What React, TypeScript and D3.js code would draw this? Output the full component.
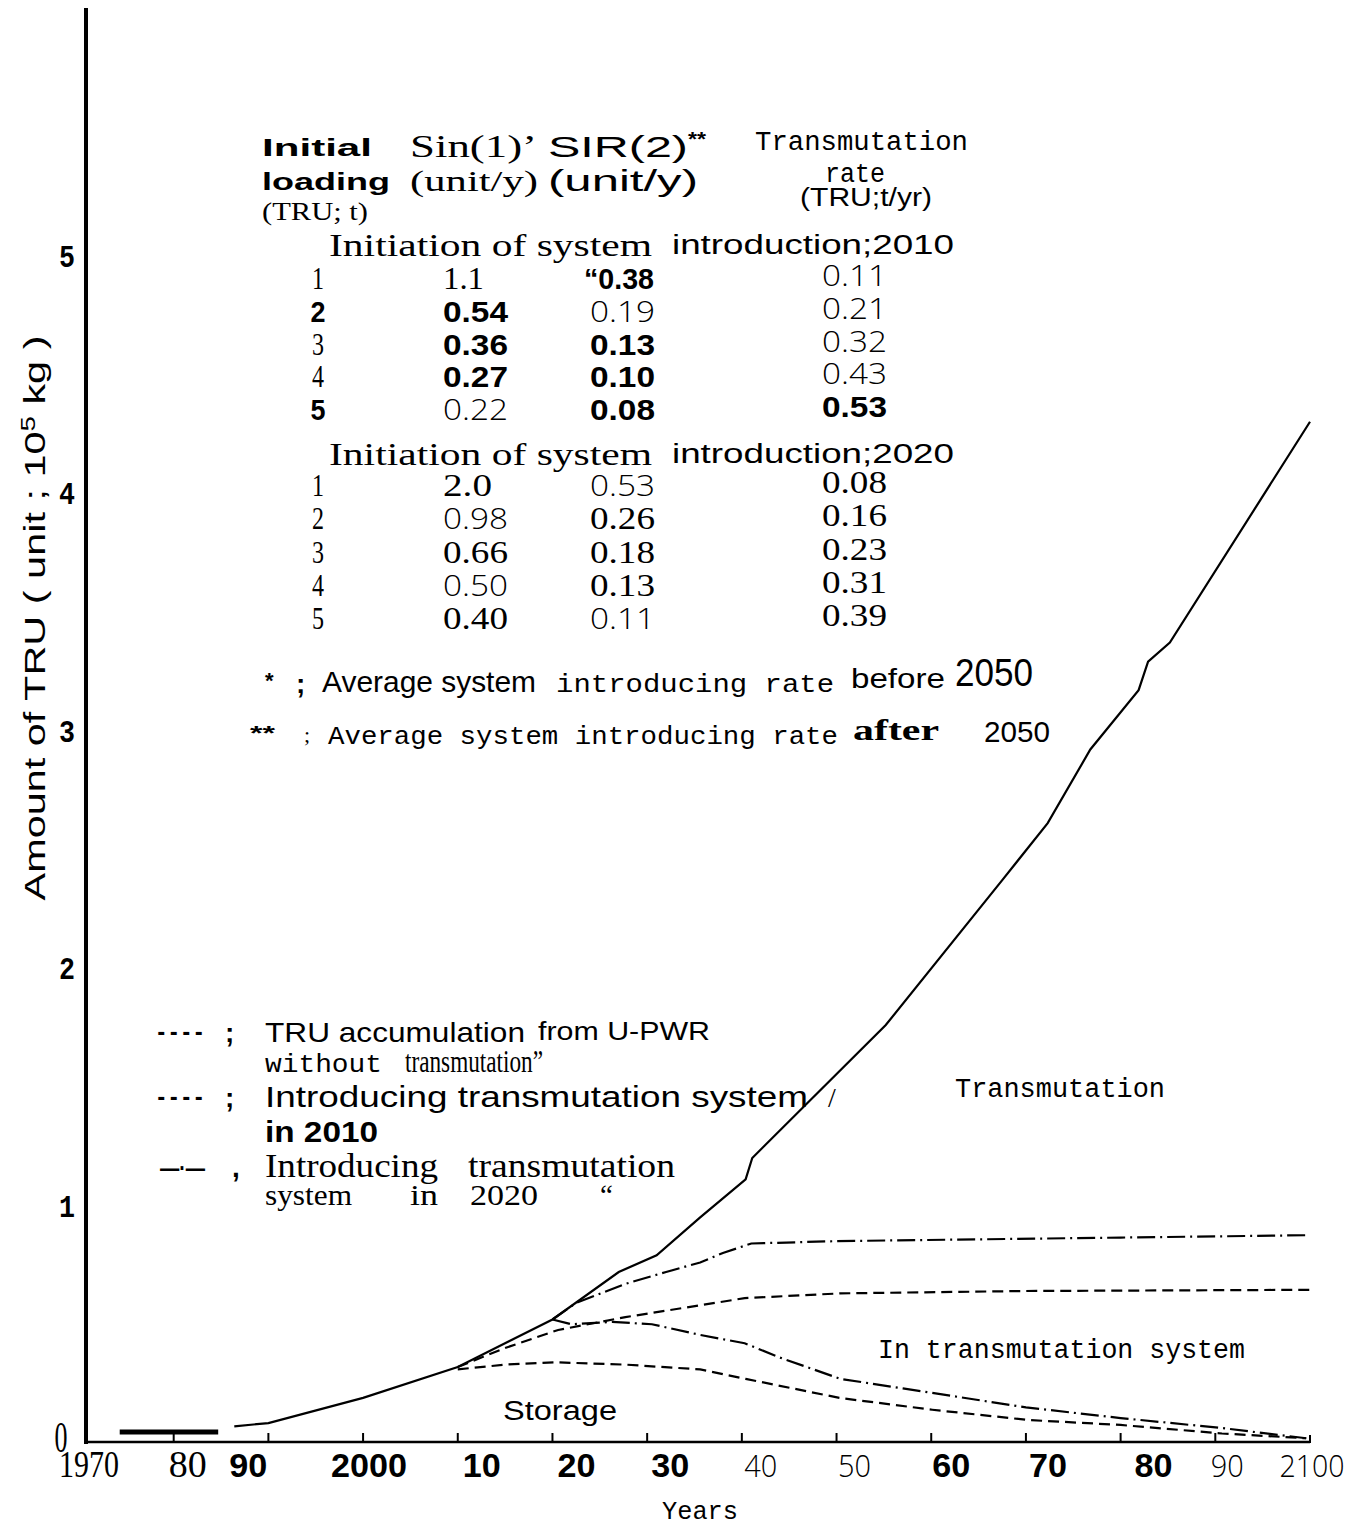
import React from "react";
import * as d3 from "d3";

const W = 1353;
const H = 1527;

const SERIF = "'Liberation Serif', 'DejaVu Serif', serif";
const SANS = "'Liberation Sans', Arial, sans-serif";
const MONO = "'Liberation Mono', 'DejaVu Sans Mono', monospace";
const NARROW = "'Liberation Sans Narrow', 'Liberation Sans', sans-serif";
const LIGHT = "'Open Sans', 'DejaVu Sans', sans-serif";

// axes
const yearTicks = [1970, 1980, 1990, 2000, 2010, 2020, 2030, 2040, 2050, 2060, 2070, 2080, 2090, 2100];
const yearTickLabels = ["1970", "80", "90", "2000", "10", "20", "30", "40", "50", "60", "70", "80", "90", "2100"];
const valueTicks = [0, 1, 2, 3, 4, 5];

// curves: [year, amount of TRU (10^5 kg)]
const earlyStock: [number, number][] = [
  [1974.3, 0.046],
  [1984.7, 0.046],
];
const withoutTransmutation: [number, number][] = [
  [1986.4, 0.07], [1990, 0.084], [2000, 0.19], [2010, 0.32], [2020, 0.52],
  [2027, 0.72], [2031, 0.79], [2035.6, 0.95], [2040.4, 1.11], [2041.1, 1.2],
  [2055.2, 1.76], [2067.5, 2.37], [2072.3, 2.61], [2076.8, 2.92], [2081.9, 3.17],
  [2082.9, 3.29], [2085.2, 3.37], [2100, 4.3],
];
const intro2010InSystem: [number, number][] = [
  [2010, 0.32], [2015, 0.4], [2020.6, 0.476], [2027.7, 0.53], [2035.6, 0.58],
  [2040.3, 0.61], [2050.4, 0.63], [2070, 0.64], [2100, 0.645],
];
const intro2010Storage: [number, number][] = [
  [2010, 0.31], [2015, 0.33], [2020.2, 0.34], [2027.7, 0.33], [2035.6, 0.31],
  [2040.4, 0.27], [2050.3, 0.19], [2060.1, 0.14], [2070.2, 0.097], [2080, 0.076],
  [2090.7, 0.04], [2099.6, 0.02],
];
const intro2020InSystem: [number, number][] = [
  [2020, 0.52], [2022.5, 0.59], [2027.7, 0.67], [2032, 0.72], [2035.6, 0.76],
  [2038, 0.8], [2041, 0.84], [2050, 0.85], [2080, 0.865], [2100, 0.875],
];
const intro2020Storage: [number, number][] = [
  [2020, 0.52], [2022, 0.5], [2026.3, 0.51], [2030.5, 0.5], [2035.6, 0.455],
  [2040.3, 0.42], [2044, 0.36], [2050.4, 0.27], [2057, 0.23], [2070, 0.15],
  [2080, 0.105], [2090.7, 0.063], [2099.6, 0.02],
];

// inset table
const loadings = ["1", "2", "3", "4", "5"];
const sir1In2010 = ["1.1", "0.54", "0.36", "0.27", "0.22"];
const sir2In2010 = ["\u201C0.38", "0.19", "0.13", "0.10", "0.08"];
const rateIn2010 = ["0.11", "0.21", "0.32", "0.43", "0.53"];
const sir1In2020 = ["2.0", "0.98", "0.66", "0.50", "0.40"];
const sir2In2020 = ["0.53", "0.26", "0.18", "0.13", "0.11"];
const rateIn2020 = ["0.08", "0.16", "0.23", "0.31", "0.39"];

// scanned-type look of each cell: s serif, b bold sans, l light sans
const styles2010 = [
  ["s", "s", "b", "l"],
  ["b", "b", "l", "l"],
  ["s", "b", "b", "l"],
  ["s", "b", "b", "l"],
  ["b", "l", "b", "b"],
];
const styles2020 = [
  ["s", "s", "l", "s"],
  ["s", "l", "s", "s"],
  ["s", "s", "s", "s"],
  ["s", "l", "s", "s"],
  ["s", "s", "l", "s"],
];

const tickLabelStyle = ["s", "s", "b", "b", "b", "b", "b", "l", "l", "b", "b", "b", "l", "l"];
const tickLabelShift = [10, 14, -20, 6, 24, 24, 23, 19, 18, 20, 22, 33, 12, 2];

type TxtProps = {
  x: number;
  y: number;
  w?: number;
  size: number;
  font: string;
  weight?: number | string;
  anchor?: "start" | "middle" | "end";
  transform?: string;
  children: React.ReactNode;
};

function Txt({ x, y, w, size, font, weight = 400, anchor = "start", transform, children }: TxtProps) {
  return (
    <text
      x={x}
      y={y}
      fontSize={size}
      fontFamily={font}
      fontWeight={weight}
      textAnchor={anchor}
      transform={transform}
      textLength={w}
      lengthAdjust={w ? "spacingAndGlyphs" : undefined}
      fill="#000"
    >
      {children}
    </text>
  );
}

function cellFont(code: string) {
  if (code === "b") return { font: SANS, weight: 700, size: 30 };
  if (code === "l") return { font: LIGHT, weight: 300, size: 29 };
  return { font: SERIF, weight: 400, size: 31 };
}

function Block({
  rowsY,
  cols,
  styles,
}: {
  rowsY: d3.ScaleLinear<number, number>;
  cols: string[][];
  styles: string[][];
}) {
  const colX = [318, 443, 590, 822];
  return (
    <g>
      {loadings.map((_, r) =>
        cols.map((col, c) => {
          const code = styles[r][c];
          const f = cellFont(code);
          const txt = col[r];
          let w = txt.length === 3 ? (txt === "1.1" ? 41 : 49) : txt.length === 5 ? 70 : 65;
          if (c === 0) w = code === "b" ? 15 : 12;
          return (
            <Txt
              key={`${r}-${c}`}
              x={c === 0 ? colX[0] : c === 2 && txt.length === 5 ? colX[2] - 6 : colX[c]}
              y={rowsY(r) - (c === 3 ? 3 : 0)}
              w={w}
              size={f.size}
              font={f.font}
              weight={f.weight}
              anchor={c === 0 ? "middle" : "start"}
            >
              {txt}
            </Txt>
          );
        }),
      )}
    </g>
  );
}

export default function App() {
  const x = d3.scaleLinear().domain([1970, 2100]).range([79, 1310]);
  const y = d3.scaleLinear().domain([0, 6]).range([1443, 18]);
  const line = d3
    .line<[number, number]>()
    .x((d) => x(d[0]))
    .y((d) => y(d[1]));

  const plotLeft = 86;
  const rows2010 = d3.scaleLinear().domain([0, 4]).range([289, 420]);
  const rows2020 = d3.scaleLinear().domain([0, 4]).range([496, 629]);

  const labelFont = (code: string) =>
    code === "b"
      ? { font: SANS, weight: 700, size: 33 }
      : code === "l"
        ? { font: LIGHT, weight: 300, size: 32 }
        : { font: SERIF, weight: 400, size: 38 };

  const tickW: Record<string, number> = { "1970": 60, "2000": 76, "2100": 65 };

  return (
    <svg
      width={W}
      height={H}
      viewBox={`0 0 ${W} ${H}`}
      style={{ position: "absolute", left: 0, top: 0, background: "#fff" }}
    >
      <rect width={W} height={H} fill="#fff" />

      {/* axes */}
      <line x1={plotLeft} x2={plotLeft} y1={8} y2={y(0) + 1} stroke="#000" strokeWidth={4} />
      <line x1={plotLeft} x2={x(2100)} y1={y(0) - 1} y2={y(0) - 1} stroke="#000" strokeWidth={2.5} />
      {yearTicks.slice(1, -1).map((t) => (
        <line key={t} x1={x(t)} x2={x(t)} y1={y(0) - 10} y2={y(0)} stroke="#000" strokeWidth={2} />
      ))}
      <line x1={x(2100)} x2={x(2100)} y1={y(0) - 8} y2={y(0)} stroke="#000" strokeWidth={2} />

      {yearTicks.map((t, i) => {
        const f = labelFont(tickLabelStyle[i]);
        const lab = yearTickLabels[i];
        return (
          <Txt
            key={t}
            x={x(t) + tickLabelShift[i]}
            y={1477}
            w={tickW[lab] ?? (tickLabelStyle[i] === "l" ? 33 : 38)}
            size={f.size}
            font={f.font}
            weight={f.weight}
            anchor="middle"
          >
            {lab}
          </Txt>
        );
      })}

      {valueTicks.map((v) =>
        v === 0 ? (
          <Txt key={v} x={61} y={y(0) + 9} w={13} size={44} font={SERIF} anchor="middle">
            0
          </Txt>
        ) : (
          <Txt key={v} x={67} y={y(v) + 11} w={16} size={32} font={MONO} weight={700} anchor="middle">
            {String(v)}
          </Txt>
        ),
      )}

      <Txt x={0} y={0} w={565} size={30} font={NARROW} anchor="middle" transform="translate(45,618) rotate(-90)">
        {"Amount of TRU  ( unit ; 10"}
        <tspan dy={-10} fontSize={20}>5</tspan>
        <tspan dy={10}>{" kg )"}</tspan>
      </Txt>
      <Txt x={700} y={1519} w={76} size={25} font={MONO} anchor="middle">
        Years
      </Txt>

      {/* curves */}
      <path d={line(earlyStock) ?? ""} fill="none" stroke="#000" strokeWidth={5} />
      <path d={line(withoutTransmutation) ?? ""} fill="none" stroke="#000" strokeWidth={2.2} />
      <path d={line(intro2010InSystem) ?? ""} fill="none" stroke="#000" strokeWidth={2.2} strokeDasharray="11 6" />
      <path d={line(intro2010Storage) ?? ""} fill="none" stroke="#000" strokeWidth={2.2} strokeDasharray="11 6" />
      <path
        d={line(intro2020InSystem) ?? ""}
        fill="none"
        stroke="#000"
        strokeWidth={2.2}
        strokeDasharray="18 5 2 5"
      />
      <path
        d={line(intro2020Storage) ?? ""}
        fill="none"
        stroke="#000"
        strokeWidth={2.2}
        strokeDasharray="18 5 2 5"
      />

      {/* region labels */}
      <Txt x={955} y={1097} w={210} size={27} font={MONO}>
        Transmutation
      </Txt>
      <Txt x={878} y={1358} w={367} size={27} font={MONO}>
        In transmutation system
      </Txt>
      <Txt x={503} y={1420} w={114} size={27} font={SANS}>
        Storage
      </Txt>

      {/* legend */}
      <Txt x={155} y={1040} w={50} size={26} font={MONO} weight={700}>
        ----
      </Txt>
      <Txt x={225} y={1042} size={28} font={SANS} weight={700}>
        ;
      </Txt>
      <Txt x={265} y={1042} w={260} size={28} font={NARROW}>
        TRU accumulation
      </Txt>
      <Txt x={538} y={1040} w={172} size={26} font={NARROW}>
        from U-PWR
      </Txt>
      <Txt x={265} y={1072} w={117} size={25} font={MONO}>
        without
      </Txt>
      <Txt x={405} y={1072} w={138} size={31} font={SERIF}>
        transmutation”
      </Txt>
      <Txt x={155} y={1105} w={50} size={26} font={MONO} weight={700}>
        ----
      </Txt>
      <Txt x={225} y={1107} size={28} font={SANS} weight={700}>
        ;
      </Txt>
      <Txt x={265} y={1107} w={543} size={30} font={NARROW}>
        Introducing transmutation system
      </Txt>
      <Txt x={828} y={1107} size={28} font={SERIF}>
        /
      </Txt>
      <Txt x={265} y={1142} w={113} size={30} font={SANS} weight={700}>
        in 2010
      </Txt>
      <Txt x={160} y={1177} w={45} size={26} font={SANS} weight={700}>
        —·—
      </Txt>
      <Txt x={232} y={1177} size={28} font={SANS} weight={700}>
        ,
      </Txt>
      <Txt x={265} y={1177} w={173} size={33} font={SERIF}>
        Introducing
      </Txt>
      <Txt x={468} y={1177} w={207} size={33} font={SERIF}>
        transmutation
      </Txt>
      <Txt x={265} y={1205} w={87} size={29} font={SERIF}>
        system
      </Txt>
      <Txt x={410} y={1205} w={28} size={29} font={SERIF}>
        in
      </Txt>
      <Txt x={470} y={1205} w={68} size={29} font={SERIF}>
        2020
      </Txt>
      <Txt x={600} y={1205} size={29} font={SERIF}>
        “
      </Txt>

      {/* table header */}
      <Txt x={262} y={156} w={110} size={24} font={SANS} weight={700}>
        Initial
      </Txt>
      <Txt x={262} y={190} w={128} size={24} font={SANS} weight={700}>
        loading
      </Txt>
      <Txt x={262} y={220} w={106} size={25} font={SERIF}>
        (TRU; t)
      </Txt>
      <Txt x={410} y={157} w={127} size={32} font={SERIF}>
        Sin(1)’
      </Txt>
      <Txt x={410} y={191} w={128} size={30} font={SERIF}>
        (unit/y)
      </Txt>
      <Txt x={548} y={157} w={140} size={30} font={NARROW}>
        SIR(2)
      </Txt>
      <Txt x={688} y={146} w={18} size={20} font={SANS} weight={700}>
        **
      </Txt>
      <Txt x={548} y={191} w={150} size={30} font={NARROW}>
        (unit/y)
      </Txt>
      <Txt x={755} y={150} w={213} size={27} font={MONO}>
        Transmutation
      </Txt>
      <Txt x={855} y={182} w={60} size={27} font={MONO} anchor="middle">
        rate
      </Txt>
      <Txt x={800} y={206} w={132} size={26} font={NARROW}>
        (TRU;t/yr)
      </Txt>

      <Txt x={329} y={256} w={323} size={32} font={SERIF}>
        Initiation  of  system
      </Txt>
      <Txt x={672} y={254} w={282} size={27} font={NARROW}>
        introduction;2010
      </Txt>
      <Block rowsY={rows2010} cols={[loadings, sir1In2010, sir2In2010, rateIn2010]} styles={styles2010} />

      <Txt x={329} y={465} w={323} size={32} font={SERIF}>
        Initiation  of  system
      </Txt>
      <Txt x={672} y={463} w={282} size={27} font={NARROW}>
        introduction;2020
      </Txt>
      <Block rowsY={rows2020} cols={[loadings, sir1In2020, sir2In2020, rateIn2020]} styles={styles2020} />

      {/* footnotes */}
      <Txt x={265} y={688} size={22} font={SANS} weight={700}>
        *
      </Txt>
      <Txt x={296} y={693} size={28} font={SANS} weight={700}>
        ;
      </Txt>
      <Txt x={322} y={692} w={214} size={29} font={NARROW}>
        Average system
      </Txt>
      <Txt x={556} y={692} w={278} size={26} font={MONO}>
        introducing rate
      </Txt>
      <Txt x={851} y={688} w={94} size={28} font={NARROW}>
        before
      </Txt>
      <Txt x={955} y={686} w={78} size={38} font={SANS}>
        2050
      </Txt>
      <Txt x={250} y={740} w={25} size={20} font={SANS} weight={700}>
        **
      </Txt>
      <Txt x={304} y={742} size={22} font={SERIF} weight={400}>
        ;
      </Txt>
      <Txt x={328} y={744} w={510} size={26} font={MONO}>
        Average system introducing rate
      </Txt>
      <Txt x={853} y={740} w={86} size={29} font={SERIF} weight={700}>
        after
      </Txt>
      <Txt x={984} y={742} w={66} size={30} font={SANS}>
        2050
      </Txt>
    </svg>
  );
}
